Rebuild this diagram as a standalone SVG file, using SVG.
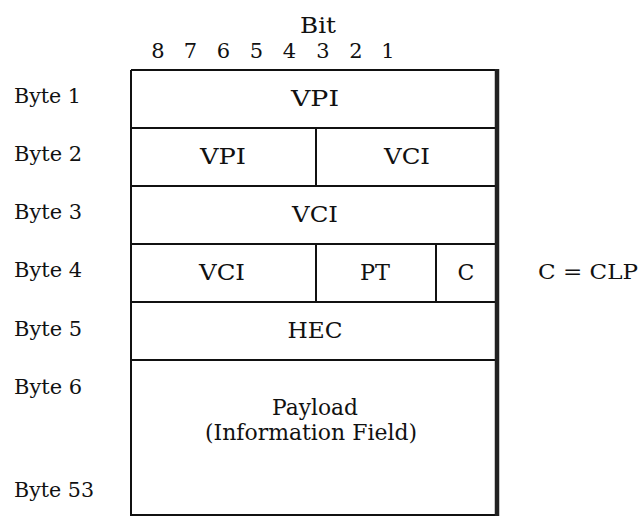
<svg xmlns="http://www.w3.org/2000/svg" width="643" height="518" viewBox="0 0 643 518">
<style>
  text { font-family: "DejaVu Serif", "Liberation Serif", serif; fill: #111; }
  .cell { font-size: 22px; text-anchor: middle; }
  .lbl { font-size: 20px; }
  .bit { font-size: 21px; text-anchor: middle; }
  .ln { stroke: #111; stroke-width: 2; fill: none; }
  .edge { stroke: #222; stroke-width: 4.5; fill: none; }
</style>
<rect width="643" height="518" fill="#fff"/>
<g id="bit-header">
  <text x="318" y="33" font-size="22" text-anchor="middle" textLength="36" lengthAdjust="spacingAndGlyphs">Bit</text>
  <text class="bit" x="158" y="58">8</text>
  <text class="bit" x="190.5" y="58">7</text>
  <text class="bit" x="223.5" y="58">6</text>
  <text class="bit" x="256.5" y="58">5</text>
  <text class="bit" x="289.5" y="58">4</text>
  <text class="bit" x="323" y="58">3</text>
  <text class="bit" x="356" y="58">2</text>
  <text class="bit" x="388" y="58">1</text>
</g>
<g id="byte-labels">
  <text class="lbl" x="14" y="103" textLength="67" lengthAdjust="spacingAndGlyphs">Byte 1</text>
  <text class="lbl" x="14" y="161" textLength="68" lengthAdjust="spacingAndGlyphs">Byte 2</text>
  <text class="lbl" x="14" y="219" textLength="68" lengthAdjust="spacingAndGlyphs">Byte 3</text>
  <text class="lbl" x="14" y="277" textLength="68" lengthAdjust="spacingAndGlyphs">Byte 4</text>
  <text class="lbl" x="14" y="336" textLength="68" lengthAdjust="spacingAndGlyphs">Byte 5</text>
  <text class="lbl" x="14" y="394" textLength="68" lengthAdjust="spacingAndGlyphs">Byte 6</text>
  <text class="lbl" x="14" y="497" textLength="80" lengthAdjust="spacingAndGlyphs">Byte 53</text>
</g>
<g id="frame">
  <path class="ln" d="M131 70 H497 M131 70 V515 H497 M131 128 H497 M131 186 H497 M131 244 H497 M131 302 H497 M131 360 H497"/>
  <path class="edge" d="M497 69 V516"/>
</g>
<g id="byte1-vpi">
  <text class="cell" x="315" y="106" textLength="48" lengthAdjust="spacingAndGlyphs">VPI</text>
</g>
<g id="byte2-vpi">
  <text class="cell" x="223" y="164" textLength="46" lengthAdjust="spacingAndGlyphs">VPI</text>
</g>
<g id="byte2-vci">
  <path class="ln" d="M316 128 V186"/>
  <text class="cell" x="407" y="164" textLength="46" lengthAdjust="spacingAndGlyphs">VCI</text>
</g>
<g id="byte3-vci">
  <text class="cell" x="315" y="222" textLength="46" lengthAdjust="spacingAndGlyphs">VCI</text>
</g>
<g id="byte4-vci">
  <text class="cell" x="222" y="280" textLength="46" lengthAdjust="spacingAndGlyphs">VCI</text>
</g>
<g id="byte4-pt">
  <path class="ln" d="M316 244 V302"/>
  <text class="cell" x="375" y="280" textLength="30" lengthAdjust="spacingAndGlyphs">PT</text>
</g>
<g id="byte4-c">
  <path class="ln" d="M436 244 V302"/>
  <text class="cell" x="466" y="280">C</text>
</g>
<g id="clp-note">
  <text x="538" y="279" font-size="21" textLength="100" lengthAdjust="spacingAndGlyphs">C = CLP</text>
</g>
<g id="byte5-hec">
  <text class="cell" x="315" y="338" textLength="55" lengthAdjust="spacingAndGlyphs">HEC</text>
</g>
<g id="payload">
  <text class="cell" x="315" y="415" font-size="20" textLength="86" lengthAdjust="spacingAndGlyphs">Payload</text>
  <text class="cell" x="311" y="440" font-size="20" textLength="212" lengthAdjust="spacingAndGlyphs">(Information Field)</text>
</g>
</svg>
